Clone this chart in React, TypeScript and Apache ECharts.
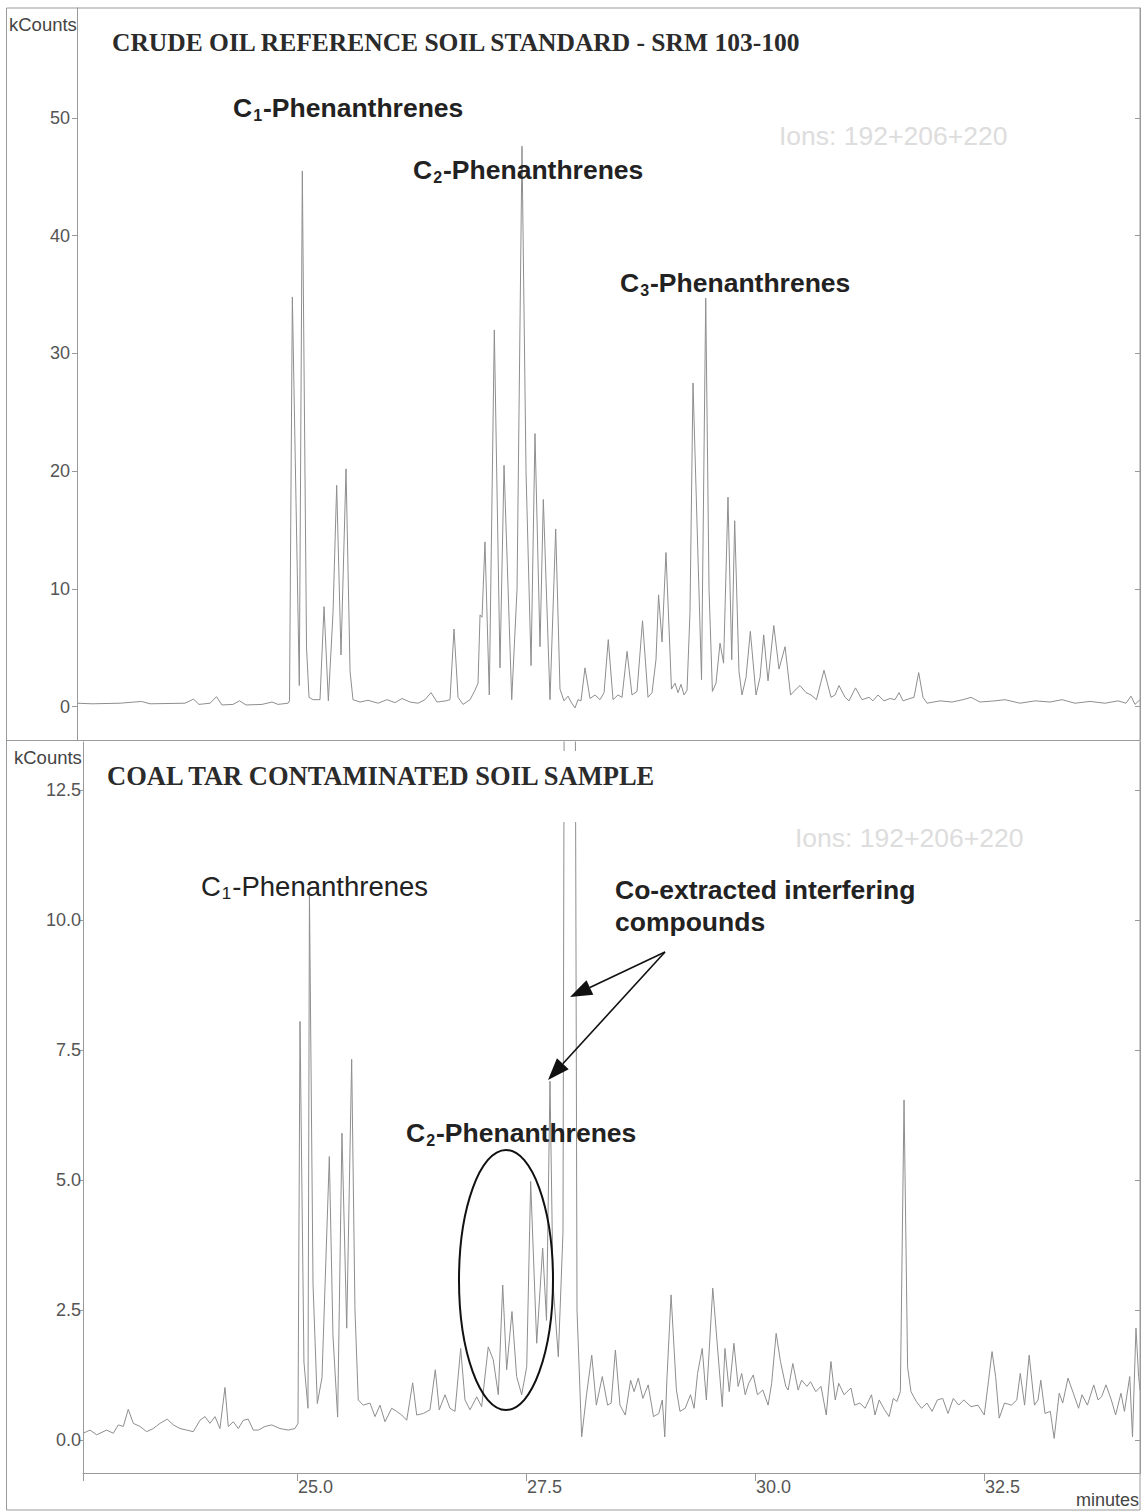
import React, { useEffect, useRef } from 'react';
import * as echarts from 'echarts';

// ---- axis ranges / ticks ----
const TOP_X_RANGE: [number, number] = [22.598, 34.203];
const BOTTOM_X_RANGE: [number, number] = [22.664, 34.203];
const TOP_Y_RANGE: [number, number] = [-2.824, 59.34];
const BOTTOM_Y_RANGE: [number, number] = [-0.635, 13.423];
const X_TICK_LABELS = [25, 27.5, 30, 32.5];
const X_TICKS = [22.664, 25, 27.5, 30, 32.5];
const TOP_Y_TICKS = [0, 10, 20, 30, 40, 50];
const BOTTOM_Y_TICKS = [0, 2.5, 5, 7.5, 10, 12.5];

// ---- crude oil reference (minutes, kCounts) ----
const TOP_TRACE: [number, number][] = [
  [22.598,0.3],[22.762,0.25],[23.068,0.3],[23.303,0.45],[23.395,0.25],[23.777,0.3],[23.870,0.65],[23.930,0.2],
  [24.050,0.3],[24.121,0.85],[24.181,0.15],[24.301,0.2],[24.372,0.5],[24.443,0.15],[24.618,0.2],[24.727,0.4],
  [24.793,0.2],[24.902,0.3],[24.918,0.5],[24.949,34.8],[25.025,1.8],[25.058,45.5],[25.073,32.0],[25.104,5],
  [25.131,0.8],[25.175,0.6],[25.251,0.6],[25.295,8.5],[25.342,0.5],[25.393,8],[25.433,18.8],[25.480,4.4],
  [25.535,20.2],[25.579,3],[25.611,0.6],[25.688,0.4],[25.775,0.55],[25.884,0.3],[25.983,0.6],[26.070,0.35],
  [26.146,0.7],[26.234,0.4],[26.321,0.3],[26.397,0.6],[26.463,1.2],[26.528,0.4],[26.627,0.5],[26.670,0.6],
  [26.714,6.6],[26.758,0.8],[26.812,0.2],[26.889,0.6],[26.943,1.4],[26.976,2],[26.998,7.8],[27.020,7.6],
  [27.052,14.0],[27.099,1.0],[27.154,32.0],[27.216,3.3],[27.260,20.5],[27.344,0.6],[27.402,10],[27.456,47.6],
  [27.500,20],[27.555,3.5],[27.598,23.2],[27.653,5.1],[27.689,17.6],[27.762,0.6],[27.824,15.1],[27.871,1.5],
  [27.915,0.5],[27.959,0.9],[27.991,0.4],[28.035,-0.1],[28.068,0.6],[28.100,0.5],[28.144,3.3],[28.199,0.7],
  [28.253,1.0],[28.308,0.6],[28.352,1.2],[28.398,5.7],[28.450,0.6],[28.504,1.0],[28.548,0.8],[28.603,4.7],
  [28.657,1.0],[28.712,1.3],[28.772,7.3],[28.832,0.8],[28.876,1.2],[28.919,4],[28.947,9.5],[28.985,5.5],
  [29.028,13.1],[29.088,1.5],[29.127,2.0],[29.159,1.2],[29.192,1.9],[29.225,1.0],[29.258,1.4],[29.290,8],
  [29.323,27.5],[29.416,2.3],[29.462,34.7],[29.498,10],[29.535,1.3],[29.574,2],[29.618,5.4],[29.657,3.7],
  [29.705,17.8],[29.746,4.0],[29.778,15.8],[29.825,3],[29.858,1.0],[29.902,2.5],[29.949,6.4],[30.011,1.0],
  [30.055,2.5],[30.095,6.1],[30.142,2.2],[30.205,6.9],[30.262,3.2],[30.328,5.1],[30.388,1.0],[30.437,1.4],
  [30.491,1.8],[30.557,1.2],[30.611,1.0],[30.671,0.6],[30.753,3.1],[30.830,0.8],[30.873,1.0],[30.917,1.8],
  [30.983,0.8],[31.026,0.5],[31.097,1.6],[31.168,0.6],[31.245,0.8],[31.288,0.5],[31.343,1.0],[31.408,0.5],
  [31.474,0.7],[31.528,0.6],[31.572,1.2],[31.616,0.5],[31.692,0.7],[31.736,0.8],[31.787,2.9],[31.834,0.8],
  [31.878,0.3],[32.020,0.5],[32.151,0.4],[32.271,0.6],[32.358,0.8],[32.456,0.4],[32.620,0.5],[32.729,0.6],
  [32.893,0.3],[33.057,0.5],[33.220,0.4],[33.352,0.6],[33.493,0.3],[33.657,0.45],[33.821,0.3],[33.963,0.5],
  [34.050,0.3],[34.105,0.9],[34.148,0.2],[34.203,0.6]
];

// ---- coal tar sample (minutes, kCounts) ----
const BOTTOM_TRACE: [number, number][] = [
  [22.667,0.13],[22.740,0.19],[22.813,0.1],[22.922,0.19],[22.995,0.13],[23.049,0.29],[23.104,0.26],[23.158,0.59],
  [23.213,0.32],[23.286,0.26],[23.359,0.16],[23.431,0.22],[23.504,0.32],[23.584,0.4],[23.650,0.29],[23.723,0.22],
  [23.796,0.19],[23.868,0.16],[23.941,0.38],[23.996,0.45],[24.050,0.32],[24.105,0.45],[24.159,0.22],[24.214,1.01],
  [24.250,0.26],[24.305,0.35],[24.359,0.22],[24.414,0.38],[24.468,0.4],[24.523,0.19],[24.578,0.19],[24.651,0.26],
  [24.724,0.29],[24.814,0.22],[24.905,0.19],[24.978,0.22],[25.011,0.32],[25.033,8.05],[25.076,1.5],[25.120,0.61],
  [25.136,10.5],[25.175,3],[25.222,0.7],[25.273,1.2],[25.353,5.45],[25.393,2],[25.444,0.44],[25.491,5.9],
  [25.543,2.15],[25.597,7.32],[25.633,2.5],[25.669,0.77],[25.724,0.67],[25.797,0.71],[25.852,0.45],[25.906,0.67],
  [25.961,0.35],[26.034,0.61],[26.088,0.55],[26.143,0.48],[26.198,0.38],[26.263,1.1],[26.307,0.48],[26.379,0.51],
  [26.452,0.58],[26.510,1.35],[26.553,0.58],[26.616,0.87],[26.670,0.61],[26.725,0.55],[26.787,1.76],[26.834,0.77],
  [26.889,0.58],[26.962,0.83],[27.016,0.64],[27.088,1.79],[27.143,1.54],[27.198,0.87],[27.246,2.98],[27.289,1.35],
  [27.347,2.47],[27.398,1.22],[27.453,0.87],[27.508,1.41],[27.551,4.97],[27.617,1.86],[27.682,3.69],[27.724,2.3],
  [27.762,6.9],[27.795,3.0],[27.853,1.6],[27.904,4],[27.937,30],[28.013,30],[28.057,2.5],[28.108,0.06],
  [28.163,0.9],[28.218,1.63],[28.268,0.67],[28.333,1.22],[28.391,0.67],[28.430,0.71],[28.476,1.73],[28.526,0.67],
  [28.584,0.48],[28.642,1.15],[28.680,0.93],[28.726,1.19],[28.776,0.8],[28.834,1.06],[28.892,0.45],[28.950,0.51],
  [28.988,0.77],[29.015,0.06],[29.038,1.15],[29.084,2.79],[29.142,0.96],[29.181,0.55],[29.238,0.61],[29.296,0.87],
  [29.335,0.61],[29.373,1.28],[29.424,1.76],[29.469,0.77],[29.539,2.92],[29.593,1.73],[29.643,0.64],[29.672,1.76],
  [29.719,0.93],[29.770,1.86],[29.816,1.03],[29.855,1.28],[29.893,0.87],[29.931,1.09],[29.981,1.25],[30.027,0.87],
  [30.085,0.96],[30.143,0.67],[30.182,1.09],[30.231,2.05],[30.278,1.51],[30.336,1.03],[30.362,0.96],[30.413,1.47],
  [30.471,0.96],[30.509,1.15],[30.567,1.03],[30.606,1.12],[30.663,0.93],[30.721,1.03],[30.778,0.48],[30.829,1.51],
  [30.876,0.77],[30.914,1.09],[30.972,0.87],[31.048,1.0],[31.087,0.67],[31.144,0.71],[31.202,0.61],[31.272,0.87],
  [31.310,0.48],[31.356,0.77],[31.414,0.58],[31.464,0.45],[31.510,0.8],[31.549,0.74],[31.587,0.93],[31.627,6.54],
  [31.666,1.4],[31.703,0.93],[31.761,0.74],[31.819,0.61],[31.877,0.71],[31.933,0.55],[31.991,0.77],[32.049,0.8],
  [32.107,0.51],[32.165,0.8],[32.223,0.67],[32.279,0.77],[32.358,0.64],[32.434,0.67],[32.503,0.48],[32.550,1.15],
  [32.588,1.7],[32.627,1.22],[32.666,0.42],[32.724,0.71],[32.800,0.67],[32.858,0.77],[32.896,1.28],[32.943,0.67],
  [32.993,1.63],[33.051,0.67],[33.090,0.77],[33.120,1.15],[33.166,0.51],[33.224,0.55],[33.266,0.03],[33.321,0.9],
  [33.359,0.71],[33.417,1.19],[33.475,0.9],[33.532,0.61],[33.570,0.87],[33.629,0.67],[33.698,1.06],[33.745,0.77],
  [33.783,0.83],[33.832,1.06],[33.890,0.77],[33.937,0.48],[33.995,0.9],[34.033,0.55],[34.091,1.22],[34.121,0.06],
  [34.159,2.15],[34.188,1.22],[34.203,0.96]
];

const SANS = '"Liberation Sans", Arial, sans-serif';
const SERIF = '"Liberation Serif", "Times New Roman", serif';
const AXIS_GRAY = '#9a9a9a';
const LABEL_GRAY = '#555555';
const TRACE_GRAY = '#8e8e8e';

function phenLabel(x: number, y: number, n: string, bold: boolean, size: number) {
  const w = bold ? 'bold' : 'normal';
  return {
    type: 'text', x, y, z: 100, silent: true,
    style: {
      text: `{a|C}{s|${n}}{a|-Phenanthrenes}`,
      align: 'left', verticalAlign: 'middle', textAlign: 'left', textVerticalAlign: 'middle',
      rich: {
        a: { fontSize: size, fontWeight: w, fontFamily: SANS, fill: '#222', lineHeight: size + 4, verticalAlign: 'middle' },
        s: { fontSize: Math.round(size * 0.6), fontWeight: w, fontFamily: SANS, fill: '#222', lineHeight: size + 4, verticalAlign: 'bottom', padding: [0, 1, 0, 1] },
      },
    },
  };
}

function plainText(x: number, y: number, text: string, font: string, fill: string, align = 'left') {
  return {
    type: 'text', x, y, z: 100, silent: true,
    style: { text, font, fill, align, verticalAlign: 'middle', textAlign: align, textVerticalAlign: 'middle' },
  };
}

function arrow(from: [number, number], tip: [number, number]) {
  const dx = tip[0] - from[0];
  const dy = tip[1] - from[1];
  const len = Math.sqrt(dx * dx + dy * dy);
  const ux = dx / len, uy = dy / len;
  const L = 22, H = 8;
  const bx = tip[0] - ux * L, by = tip[1] - uy * L;
  return [
    { type: 'line', z: 100, silent: true, shape: { x1: from[0], y1: from[1], x2: bx, y2: by }, style: { stroke: '#111', lineWidth: 1.6 } },
    { type: 'polygon', z: 100, silent: true, shape: { points: [[tip[0], tip[1]], [bx - uy * H, by + ux * H], [bx + uy * H, by - ux * H]] }, style: { fill: '#111' } },
  ];
}

export default function App() {
  const ref = useRef<HTMLDivElement>(null);
  useEffect(() => {
    if (!ref.current) return;
    const chart = echarts.init(ref.current, null, { renderer: 'svg' });
    const yLabelBase = { color: LABEL_GRAY, fontFamily: SANS };
    const option: any = {
      animation: false,
      backgroundColor: '#ffffff',
      grid: [
        { left: 77, right: 3, top: 8, height: 732 },
        { left: 83, right: 3, top: 742, height: 731 },
      ],
      xAxis: [
        { type: 'value', gridIndex: 0, min: TOP_X_RANGE[0], max: TOP_X_RANGE[1], show: false, splitLine: { show: false } },
        {
          type: 'value', gridIndex: 1, min: BOTTOM_X_RANGE[0], max: BOTTOM_X_RANGE[1],
          axisLine: { show: true, onZero: false, lineStyle: { color: AXIS_GRAY, width: 1 } },
          axisTick: { show: true, customValues: X_TICKS, length: 8, lineStyle: { color: AXIS_GRAY } },
          axisLabel: { show: true, customValues: X_TICK_LABELS, formatter: (v: number) => v.toFixed(1), align: 'left', margin: 5, padding: [0, 0, 0, 1], fontSize: 18, color: LABEL_GRAY, fontFamily: SANS },
          splitLine: { show: false },
        },
      ],
      yAxis: [
        {
          type: 'value', gridIndex: 0, position: 'left', min: TOP_Y_RANGE[0], max: TOP_Y_RANGE[1],
          axisLine: { show: true, onZero: false, lineStyle: { color: AXIS_GRAY } },
          axisTick: { show: true, customValues: TOP_Y_TICKS, length: 5, lineStyle: { color: AXIS_GRAY } },
          axisLabel: { ...yLabelBase, customValues: TOP_Y_TICKS, fontSize: 18, margin: 7 },
          splitLine: { show: false },
        },
        {
          type: 'value', gridIndex: 0, position: 'right', min: TOP_Y_RANGE[0], max: TOP_Y_RANGE[1],
          axisLine: { show: true, onZero: false, lineStyle: { color: AXIS_GRAY } },
          axisTick: { show: true, inside: true, customValues: TOP_Y_TICKS, length: 5, lineStyle: { color: AXIS_GRAY } },
          axisLabel: { show: false },
          splitLine: { show: false },
        },
        {
          type: 'value', gridIndex: 1, position: 'left', min: BOTTOM_Y_RANGE[0], max: BOTTOM_Y_RANGE[1],
          axisLine: { show: true, onZero: false, lineStyle: { color: AXIS_GRAY } },
          axisTick: { show: true, customValues: BOTTOM_Y_TICKS, length: 3, lineStyle: { color: AXIS_GRAY } },
          axisLabel: { ...yLabelBase, customValues: BOTTOM_Y_TICKS, formatter: (v: number) => v.toFixed(1), fontSize: 18, margin: 2 },
          splitLine: { show: false },
        },
        {
          type: 'value', gridIndex: 1, position: 'right', min: BOTTOM_Y_RANGE[0], max: BOTTOM_Y_RANGE[1],
          axisLine: { show: true, onZero: false, lineStyle: { color: AXIS_GRAY } },
          axisTick: { show: true, inside: true, customValues: BOTTOM_Y_TICKS, length: 5, lineStyle: { color: AXIS_GRAY } },
          axisLabel: { show: false },
          splitLine: { show: false },
        },
      ],
      series: [
        {
          type: 'line', name: 'Crude oil reference', xAxisIndex: 0, yAxisIndex: 0, data: TOP_TRACE,
          showSymbol: false, symbol: 'none', clip: true, lineStyle: { color: TRACE_GRAY, width: 1 }, z: 2,
        },
        {
          type: 'line', name: 'Coal tar sample', xAxisIndex: 1, yAxisIndex: 2, data: BOTTOM_TRACE,
          showSymbol: false, symbol: 'none', clip: true, lineStyle: { color: TRACE_GRAY, width: 1 }, z: 2,
        },
      ],
      graphic: [
        { type: 'rect', z: 80, silent: true, shape: { x: 6.5, y: 8, width: 1133.5, height: 1502 }, style: { fill: 'none', stroke: AXIS_GRAY, lineWidth: 1 } },
        { type: 'line', z: 80, silent: true, shape: { x1: 6.5, y1: 740.5, x2: 1140, y2: 740.5 }, style: { stroke: AXIS_GRAY, lineWidth: 1 } },
        { type: 'rect', z: 90, silent: true, shape: { x: 100, y: 751, width: 580, height: 71 }, style: { fill: '#ffffff' } },
        plainText(112, 42, 'CRUDE OIL REFERENCE SOIL STANDARD - SRM 103-100', `bold 25.5px ${SERIF}`, '#2b2b2b'),
        plainText(107, 776, 'COAL TAR CONTAMINATED SOIL SAMPLE', `bold 26.5px ${SERIF}`, '#2b2b2b'),
        plainText(9, 24, 'kCounts', `18.5px ${SANS}`, '#444'),
        plainText(14, 757, 'kCounts', `18.5px ${SANS}`, '#444'),
        plainText(1139, 1500, 'minutes', `18px ${SANS}`, '#444', 'right'),
        plainText(779, 136, 'Ions: 192+206+220', `26.5px ${SANS}`, '#dddddd'),
        plainText(795, 838, 'Ions: 192+206+220', `26.5px ${SANS}`, '#dddddd'),
        phenLabel(233, 108, '1', true, 26.5),
        phenLabel(413, 170, '2', true, 26.5),
        phenLabel(620, 283, '3', true, 26.5),
        phenLabel(201, 886, '1', false, 27.5),
        phenLabel(406, 1133, '2', true, 26.5),
        plainText(615, 890, 'Co-extracted interfering', `bold 26.5px ${SANS}`, '#222'),
        plainText(615, 922, 'compounds', `bold 26.5px ${SANS}`, '#222'),
        { type: 'ellipse', z: 100, silent: true, shape: { cx: 506, cy: 1280, rx: 47, ry: 130 }, style: { fill: 'none', stroke: '#111', lineWidth: 2 } },
        ...arrow([665, 952], [570, 997]),
        ...arrow([665, 952], [548, 1080]),
      ],
    };
    chart.setOption(option);
    return () => chart.dispose();
  }, []);
  return (
    <div
      ref={ref}
      style={{ position: 'absolute', left: 0, top: 0, width: 1143, height: 1512, background: '#fff' }}
    />
  );
}
